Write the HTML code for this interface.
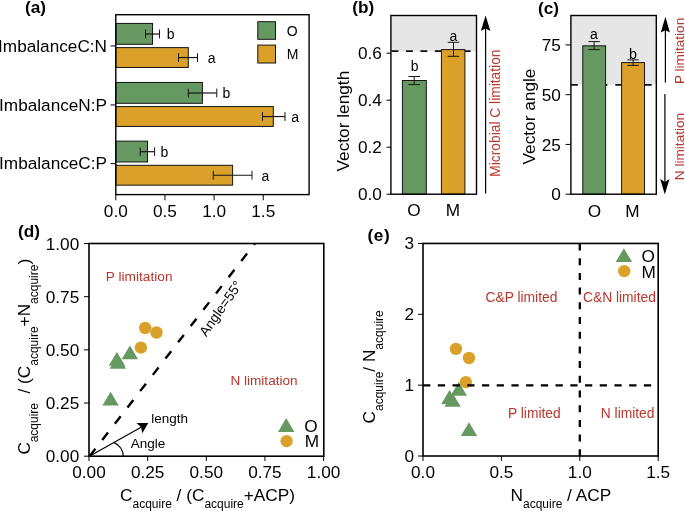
<!DOCTYPE html>
<html><head><meta charset="utf-8"><style>
html,body{margin:0;padding:0;background:#fff;overflow:hidden;}
svg{display:block;font-family:"Liberation Sans", sans-serif;will-change:transform;}
</style></head><body>
<svg width="685" height="511" viewBox="0 0 685 511">
<rect width="685" height="511" fill="#fff"/>
<text x="25.00" y="12.50" font-size="17.2" text-anchor="start" fill="#000" font-weight="bold">(a)</text>
<rect x="115.80" y="23.45" width="36.70" height="20.85" fill="#669862" stroke="#151515" stroke-width="1.0"/>
<rect x="115.80" y="47.60" width="72.50" height="19.85" fill="#DBA02A" stroke="#151515" stroke-width="1.0"/>
<line x1="145.50" y1="34.00" x2="159.50" y2="34.00" stroke="#151515" stroke-width="1.2"/>
<line x1="145.50" y1="29.60" x2="145.50" y2="38.40" stroke="#151515" stroke-width="1.0"/>
<line x1="159.50" y1="29.60" x2="159.50" y2="38.40" stroke="#151515" stroke-width="1.0"/>
<line x1="178.50" y1="57.55" x2="197.50" y2="57.55" stroke="#151515" stroke-width="1.2"/>
<line x1="178.50" y1="53.15" x2="178.50" y2="61.95" stroke="#151515" stroke-width="1.0"/>
<line x1="197.50" y1="53.15" x2="197.50" y2="61.95" stroke="#151515" stroke-width="1.0"/>
<text x="166.70" y="39.05" font-size="14" text-anchor="start" fill="#000" font-weight="normal">b</text>
<text x="207.70" y="63.15" font-size="14" text-anchor="start" fill="#000" font-weight="normal">a</text>
<rect x="115.80" y="82.45" width="86.60" height="20.85" fill="#669862" stroke="#151515" stroke-width="1.0"/>
<rect x="115.80" y="106.60" width="157.50" height="19.85" fill="#DBA02A" stroke="#151515" stroke-width="1.0"/>
<line x1="188.30" y1="93.00" x2="216.80" y2="93.00" stroke="#151515" stroke-width="1.2"/>
<line x1="188.30" y1="88.60" x2="188.30" y2="97.40" stroke="#151515" stroke-width="1.0"/>
<line x1="216.80" y1="88.60" x2="216.80" y2="97.40" stroke="#151515" stroke-width="1.0"/>
<line x1="262.50" y1="116.55" x2="285.00" y2="116.55" stroke="#151515" stroke-width="1.2"/>
<line x1="262.50" y1="112.15" x2="262.50" y2="120.95" stroke="#151515" stroke-width="1.0"/>
<line x1="285.00" y1="112.15" x2="285.00" y2="120.95" stroke="#151515" stroke-width="1.0"/>
<text x="222.40" y="98.05" font-size="14" text-anchor="start" fill="#000" font-weight="normal">b</text>
<text x="291.20" y="122.15" font-size="14" text-anchor="start" fill="#000" font-weight="normal">a</text>
<rect x="115.80" y="141.15" width="31.70" height="20.85" fill="#669862" stroke="#151515" stroke-width="1.0"/>
<rect x="115.80" y="165.30" width="116.80" height="19.85" fill="#DBA02A" stroke="#151515" stroke-width="1.0"/>
<line x1="140.20" y1="151.70" x2="154.60" y2="151.70" stroke="#151515" stroke-width="1.2"/>
<line x1="140.20" y1="147.30" x2="140.20" y2="156.10" stroke="#151515" stroke-width="1.0"/>
<line x1="154.60" y1="147.30" x2="154.60" y2="156.10" stroke="#151515" stroke-width="1.0"/>
<line x1="213.30" y1="175.25" x2="252.00" y2="175.25" stroke="#151515" stroke-width="1.2"/>
<line x1="213.30" y1="170.85" x2="213.30" y2="179.65" stroke="#151515" stroke-width="1.0"/>
<line x1="252.00" y1="170.85" x2="252.00" y2="179.65" stroke="#151515" stroke-width="1.0"/>
<text x="160.60" y="156.75" font-size="14" text-anchor="start" fill="#000" font-weight="normal">b</text>
<text x="261.40" y="180.85" font-size="14" text-anchor="start" fill="#000" font-weight="normal">a</text>
<rect x="257.80" y="21.70" width="17.70" height="17.60" fill="#669862" stroke="#151515" stroke-width="1.0"/>
<rect x="257.80" y="45.10" width="17.70" height="17.90" fill="#DBA02A" stroke="#151515" stroke-width="1.0"/>
<text x="286.80" y="35.80" font-size="14" text-anchor="start" fill="#000" font-weight="normal">O</text>
<text x="286.80" y="58.90" font-size="14" text-anchor="start" fill="#000" font-weight="normal">M</text>
<rect x="115.8" y="14.7" width="193.30" height="179.90" fill="none" stroke="#000" stroke-width="1.4"/>
<line x1="110.50" y1="45.95" x2="115.80" y2="45.95" stroke="#000" stroke-width="1.0"/>
<text x="107.00" y="51.75" font-size="17.2" text-anchor="end" fill="#000" font-weight="normal">ImbalanceC:N</text>
<line x1="110.50" y1="104.95" x2="115.80" y2="104.95" stroke="#000" stroke-width="1.0"/>
<text x="107.00" y="110.75" font-size="17.2" text-anchor="end" fill="#000" font-weight="normal">ImbalanceN:P</text>
<line x1="110.50" y1="163.65" x2="115.80" y2="163.65" stroke="#000" stroke-width="1.0"/>
<text x="107.00" y="169.45" font-size="17.2" text-anchor="end" fill="#000" font-weight="normal">ImbalanceC:P</text>
<line x1="115.80" y1="194.60" x2="115.80" y2="200.30" stroke="#000" stroke-width="1.0"/>
<text x="115.80" y="216.80" font-size="17.2" text-anchor="middle" fill="#000" font-weight="normal">0.0</text>
<line x1="164.95" y1="194.60" x2="164.95" y2="200.30" stroke="#000" stroke-width="1.0"/>
<text x="164.95" y="216.80" font-size="17.2" text-anchor="middle" fill="#000" font-weight="normal">0.5</text>
<line x1="214.10" y1="194.60" x2="214.10" y2="200.30" stroke="#000" stroke-width="1.0"/>
<text x="214.10" y="216.80" font-size="17.2" text-anchor="middle" fill="#000" font-weight="normal">1.0</text>
<line x1="263.25" y1="194.60" x2="263.25" y2="200.30" stroke="#000" stroke-width="1.0"/>
<text x="263.25" y="216.80" font-size="17.2" text-anchor="middle" fill="#000" font-weight="normal">1.5</text>
<text x="352.30" y="13.00" font-size="17.2" text-anchor="start" fill="#000" font-weight="bold">(b)</text>
<rect x="390.90" y="15.50" width="85.60" height="35.60" fill="#E6E6E6"/>
<line x1="391.50" y1="51.10" x2="476.50" y2="51.10" stroke="#111" stroke-width="1.8" stroke-dasharray="6.9 7.55"/>
<rect x="402.40" y="80.50" width="23.90" height="113.70" fill="#669862" stroke="#151515" stroke-width="1.0"/>
<rect x="441.40" y="49.60" width="23.50" height="144.60" fill="#DBA02A" stroke="#151515" stroke-width="1.0"/>
<line x1="414.20" y1="76.50" x2="414.20" y2="84.60" stroke="#151515" stroke-width="1.0"/>
<line x1="408.40" y1="76.50" x2="420.00" y2="76.50" stroke="#151515" stroke-width="1.0"/>
<line x1="408.40" y1="84.60" x2="420.00" y2="84.60" stroke="#151515" stroke-width="1.0"/>
<line x1="453.50" y1="42.30" x2="453.50" y2="56.30" stroke="#151515" stroke-width="1.0"/>
<line x1="447.80" y1="42.30" x2="459.20" y2="42.30" stroke="#151515" stroke-width="1.0"/>
<line x1="447.80" y1="56.30" x2="459.20" y2="56.30" stroke="#151515" stroke-width="1.0"/>
<text x="414.60" y="71.20" font-size="14" text-anchor="middle" fill="#000" font-weight="normal">b</text>
<text x="453.30" y="41.00" font-size="14" text-anchor="middle" fill="#000" font-weight="normal">a</text>
<rect x="390.9" y="15.5" width="85.60" height="178.70" fill="none" stroke="#000" stroke-width="1.4"/>
<line x1="386.50" y1="194.20" x2="390.90" y2="194.20" stroke="#000" stroke-width="1.0"/>
<text x="381.80" y="200.40" font-size="17.2" text-anchor="end" fill="#000" font-weight="normal">0.0</text>
<line x1="386.50" y1="147.20" x2="390.90" y2="147.20" stroke="#000" stroke-width="1.0"/>
<text x="381.80" y="153.40" font-size="17.2" text-anchor="end" fill="#000" font-weight="normal">0.2</text>
<line x1="386.50" y1="100.20" x2="390.90" y2="100.20" stroke="#000" stroke-width="1.0"/>
<text x="381.80" y="106.40" font-size="17.2" text-anchor="end" fill="#000" font-weight="normal">0.4</text>
<line x1="386.50" y1="53.20" x2="390.90" y2="53.20" stroke="#000" stroke-width="1.0"/>
<text x="381.80" y="59.40" font-size="17.2" text-anchor="end" fill="#000" font-weight="normal">0.6</text>
<text x="414.00" y="215.50" font-size="17.2" text-anchor="middle" fill="#000" font-weight="normal">O</text>
<text x="453.00" y="215.50" font-size="17.2" text-anchor="middle" fill="#000" font-weight="normal">M</text>
<text x="349.00" y="121.10" font-size="17.25" text-anchor="middle" fill="#000" font-weight="normal" transform="rotate(-90 349 121.1)">Vector length</text>
<line x1="485.60" y1="193.40" x2="485.60" y2="26.00" stroke="#000" stroke-width="1.2"/>
<polygon points="485.6,15.4 490.4,31.0 485.6,28.6 480.8,31.0" fill="#000"/>
<text x="500.30" y="113.10" font-size="13.8" text-anchor="middle" fill="#B8362C" font-weight="normal" transform="rotate(-90 500.3 113.1)">Microbial C limitation</text>
<text x="538.00" y="14.00" font-size="17.2" text-anchor="start" fill="#000" font-weight="bold">(c)</text>
<rect x="570.90" y="15.50" width="85.40" height="69.10" fill="#E6E6E6"/>
<line x1="571.00" y1="84.90" x2="656.30" y2="84.90" stroke="#111" stroke-width="1.8" stroke-dasharray="6.87 7.9"/>
<rect x="582.80" y="45.80" width="22.80" height="148.40" fill="#669862" stroke="#151515" stroke-width="1.0"/>
<rect x="621.60" y="62.60" width="22.90" height="131.60" fill="#DBA02A" stroke="#151515" stroke-width="1.0"/>
<line x1="594.10" y1="41.60" x2="594.10" y2="49.60" stroke="#151515" stroke-width="1.0"/>
<line x1="588.40" y1="41.60" x2="599.80" y2="41.60" stroke="#151515" stroke-width="1.0"/>
<line x1="588.40" y1="49.60" x2="599.80" y2="49.60" stroke="#151515" stroke-width="1.0"/>
<line x1="633.10" y1="59.90" x2="633.10" y2="65.40" stroke="#151515" stroke-width="1.0"/>
<line x1="627.40" y1="59.90" x2="638.80" y2="59.90" stroke="#151515" stroke-width="1.0"/>
<line x1="627.40" y1="65.40" x2="638.80" y2="65.40" stroke="#151515" stroke-width="1.0"/>
<text x="593.80" y="38.50" font-size="14" text-anchor="middle" fill="#000" font-weight="normal">a</text>
<text x="633.10" y="59.20" font-size="14.3" text-anchor="middle" fill="#000" font-weight="normal">b</text>
<rect x="570.9" y="15.5" width="85.40" height="178.70" fill="none" stroke="#000" stroke-width="1.4"/>
<line x1="565.60" y1="194.20" x2="570.90" y2="194.20" stroke="#000" stroke-width="1.0"/>
<text x="560.80" y="200.40" font-size="17.2" text-anchor="end" fill="#000" font-weight="normal">0</text>
<line x1="565.60" y1="144.45" x2="570.90" y2="144.45" stroke="#000" stroke-width="1.0"/>
<text x="560.80" y="150.65" font-size="17.2" text-anchor="end" fill="#000" font-weight="normal">25</text>
<line x1="565.60" y1="94.70" x2="570.90" y2="94.70" stroke="#000" stroke-width="1.0"/>
<text x="560.80" y="100.90" font-size="17.2" text-anchor="end" fill="#000" font-weight="normal">50</text>
<line x1="565.60" y1="44.95" x2="570.90" y2="44.95" stroke="#000" stroke-width="1.0"/>
<text x="560.80" y="51.15" font-size="17.2" text-anchor="end" fill="#000" font-weight="normal">75</text>
<text x="594.50" y="216.50" font-size="17.2" text-anchor="middle" fill="#000" font-weight="normal">O</text>
<text x="632.50" y="216.50" font-size="17.2" text-anchor="middle" fill="#000" font-weight="normal">M</text>
<text x="535.00" y="116.50" font-size="17.25" text-anchor="middle" fill="#000" font-weight="normal" transform="rotate(-90 535 116.5)">Vector angle</text>
<line x1="665.40" y1="82.40" x2="665.40" y2="28.00" stroke="#000" stroke-width="1.2"/>
<polygon points="665.4,16.8 669.9,32.6 665.4,30.3 660.8,32.6" fill="#000"/>
<line x1="664.90" y1="94.00" x2="664.90" y2="183.00" stroke="#000" stroke-width="1.2"/>
<polygon points="664.8,194.4 669.5,178.9 664.9,182.0 660.2,178.9" fill="#000"/>
<text x="684.00" y="50.90" font-size="13.6" text-anchor="middle" fill="#B8362C" font-weight="normal" transform="rotate(-90 684 50.9)">P limitation</text>
<text x="684.00" y="146.50" font-size="13.6" text-anchor="middle" fill="#B8362C" font-weight="normal" transform="rotate(-90 684 146.5)">N limitation</text>
<text x="18.00" y="237.10" font-size="17.2" text-anchor="start" fill="#000" font-weight="bold">(d)</text>
<rect x="89" y="243.5" width="234.80" height="212.70" fill="none" stroke="#000" stroke-width="1.6"/>
<line x1="89.60" y1="456.20" x2="254.90" y2="243.50" stroke="#000" stroke-width="2.4" stroke-dasharray="9.4 11.2"/>
<circle cx="145.20" cy="328.00" r="6.2" fill="#DBA02A"/>
<circle cx="156.50" cy="332.50" r="6.2" fill="#DBA02A"/>
<circle cx="140.90" cy="347.60" r="6.2" fill="#DBA02A"/>
<polygon points="129.90,345.40 138.10,359.20 121.70,359.20" fill="#669862"/>
<polygon points="116.90,352.00 125.10,365.80 108.70,365.80" fill="#669862"/>
<polygon points="117.90,355.00 126.10,368.80 109.70,368.80" fill="#669862"/>
<polygon points="110.60,391.80 118.80,405.60 102.40,405.60" fill="#669862"/>
<line x1="89.40" y1="456.20" x2="142.00" y2="426.70" stroke="#000" stroke-width="1.2"/>
<polygon points="148.3,423.1 136.5,422.95 141.1,427.2 142.3,433.25" fill="#000"/>
<path d="M 123.3 456.2 A 14.7 14.7 0 0 0 114.0 442.6" fill="none" stroke="#000" stroke-width="1.2"/>
<text x="151.30" y="422.70" font-size="13.5" text-anchor="start" fill="#000" font-weight="normal">length</text>
<text x="130.80" y="447.60" font-size="13.5" text-anchor="start" fill="#000" font-weight="normal">Angle</text>
<text x="105.80" y="281.10" font-size="13.7" text-anchor="start" fill="#B8362C" font-weight="normal">P limitation</text>
<text x="230.40" y="384.70" font-size="13.6" text-anchor="start" fill="#B8362C" font-weight="normal">N limitation</text>
<text x="224.50" y="311.10" font-size="13.7" text-anchor="middle" fill="#000" font-weight="normal" transform="rotate(-55 224.5 311.1)">Angle=55°</text>
<polygon points="286.20,418.10 294.40,431.90 278.00,431.90" fill="#669862"/>
<circle cx="286.60" cy="441.10" r="6.2" fill="#DBA02A"/>
<text x="304.30" y="431.90" font-size="17.2" text-anchor="start" fill="#000" font-weight="normal">O</text>
<text x="304.70" y="446.70" font-size="17.2" text-anchor="start" fill="#000" font-weight="normal">M</text>
<line x1="84.00" y1="456.20" x2="89.00" y2="456.20" stroke="#000" stroke-width="1.0"/>
<text x="79.20" y="462.20" font-size="17.2" text-anchor="end" fill="#000" font-weight="normal">0.00</text>
<line x1="89.00" y1="456.20" x2="89.00" y2="461.00" stroke="#000" stroke-width="1.0"/>
<text x="89.00" y="478.20" font-size="17.2" text-anchor="middle" fill="#000" font-weight="normal">0.00</text>
<line x1="84.00" y1="403.02" x2="89.00" y2="403.02" stroke="#000" stroke-width="1.0"/>
<text x="79.20" y="409.02" font-size="17.2" text-anchor="end" fill="#000" font-weight="normal">0.25</text>
<line x1="147.65" y1="456.20" x2="147.65" y2="461.00" stroke="#000" stroke-width="1.0"/>
<text x="147.65" y="478.20" font-size="17.2" text-anchor="middle" fill="#000" font-weight="normal">0.25</text>
<line x1="84.00" y1="349.85" x2="89.00" y2="349.85" stroke="#000" stroke-width="1.0"/>
<text x="79.20" y="355.85" font-size="17.2" text-anchor="end" fill="#000" font-weight="normal">0.50</text>
<line x1="206.30" y1="456.20" x2="206.30" y2="461.00" stroke="#000" stroke-width="1.0"/>
<text x="206.30" y="478.20" font-size="17.2" text-anchor="middle" fill="#000" font-weight="normal">0.50</text>
<line x1="84.00" y1="296.68" x2="89.00" y2="296.68" stroke="#000" stroke-width="1.0"/>
<text x="79.20" y="302.68" font-size="17.2" text-anchor="end" fill="#000" font-weight="normal">0.75</text>
<line x1="264.95" y1="456.20" x2="264.95" y2="461.00" stroke="#000" stroke-width="1.0"/>
<text x="264.95" y="478.20" font-size="17.2" text-anchor="middle" fill="#000" font-weight="normal">0.75</text>
<line x1="84.00" y1="243.50" x2="89.00" y2="243.50" stroke="#000" stroke-width="1.0"/>
<text x="79.20" y="249.50" font-size="17.2" text-anchor="end" fill="#000" font-weight="normal">1.00</text>
<line x1="323.60" y1="456.20" x2="323.60" y2="461.00" stroke="#000" stroke-width="1.0"/>
<text x="323.60" y="478.20" font-size="17.2" text-anchor="middle" fill="#000" font-weight="normal">1.00</text>
<text x="120" y="500.9" font-size="17.25">C<tspan font-size="12" dy="6.6">acquire</tspan><tspan dy="-6.6"> / (C</tspan><tspan font-size="12" dy="6.6">acquire</tspan><tspan dy="-6.6">+ACP)</tspan></text>
<text x="30.5" y="454.4" font-size="17.25" transform="rotate(-90 30.5 454.4)">C<tspan font-size="12" dy="7.9" dx="-0.4">acquire</tspan><tspan dy="-7.9" dx="4.6"> / (C</tspan><tspan font-size="12" dy="7.1">acquire</tspan><tspan dy="-7.1">+N</tspan><tspan font-size="12" dy="7.1">acquire</tspan><tspan dy="-7.1">)</tspan></text>
<text x="367.60" y="241.00" font-size="17.2" text-anchor="start" fill="#000" font-weight="bold" letter-spacing="0.55">(e)</text>
<rect x="423" y="243.45" width="235.20" height="212.55" fill="none" stroke="#000" stroke-width="1.6"/>
<circle cx="455.90" cy="348.90" r="6.2" fill="#DBA02A"/>
<circle cx="469.00" cy="358.00" r="6.2" fill="#DBA02A"/>
<circle cx="465.80" cy="382.20" r="6.2" fill="#DBA02A"/>
<polygon points="458.80,382.00 467.00,395.80 450.60,395.80" fill="#669862"/>
<polygon points="449.50,390.10 457.70,403.90 441.30,403.90" fill="#669862"/>
<polygon points="452.60,393.00 460.80,406.80 444.40,406.80" fill="#669862"/>
<polygon points="469.00,422.30 477.20,436.10 460.80,436.10" fill="#669862"/>
<line x1="579.80" y1="243.50" x2="579.80" y2="456.00" stroke="#000" stroke-width="2.3" stroke-dasharray="7.0 7.7"/>
<line x1="423.10" y1="385.40" x2="658.20" y2="385.40" stroke="#000" stroke-width="2.3" stroke-dasharray="7.25 7.47"/>
<text x="485.50" y="302.40" font-size="13.8" text-anchor="start" fill="#B8362C" font-weight="normal">C&amp;P limited</text>
<text x="583.00" y="301.90" font-size="13.8" text-anchor="start" fill="#B8362C" font-weight="normal">C&amp;N limited</text>
<text x="508.00" y="417.60" font-size="13.8" text-anchor="start" fill="#B8362C" font-weight="normal">P limited</text>
<text x="600.80" y="417.60" font-size="13.8" text-anchor="start" fill="#B8362C" font-weight="normal">N limited</text>
<polygon points="623.90,248.20 632.10,262.00 615.70,262.00" fill="#669862"/>
<circle cx="624.20" cy="271.10" r="6.2" fill="#DBA02A"/>
<text x="641.40" y="261.80" font-size="17.2" text-anchor="start" fill="#000" font-weight="normal">O</text>
<text x="641.60" y="277.60" font-size="17.2" text-anchor="start" fill="#000" font-weight="normal">M</text>
<line x1="418.00" y1="456.00" x2="423.00" y2="456.00" stroke="#000" stroke-width="1.0"/>
<text x="414.00" y="462.00" font-size="17.2" text-anchor="end" fill="#000" font-weight="normal">0</text>
<line x1="418.00" y1="385.15" x2="423.00" y2="385.15" stroke="#000" stroke-width="1.0"/>
<text x="414.00" y="391.15" font-size="17.2" text-anchor="end" fill="#000" font-weight="normal">1</text>
<line x1="418.00" y1="314.30" x2="423.00" y2="314.30" stroke="#000" stroke-width="1.0"/>
<text x="414.00" y="320.30" font-size="17.2" text-anchor="end" fill="#000" font-weight="normal">2</text>
<line x1="418.00" y1="243.45" x2="423.00" y2="243.45" stroke="#000" stroke-width="1.0"/>
<text x="414.00" y="249.45" font-size="17.2" text-anchor="end" fill="#000" font-weight="normal">3</text>
<line x1="423.00" y1="456.00" x2="423.00" y2="461.00" stroke="#000" stroke-width="1.0"/>
<text x="423.00" y="478.20" font-size="17.2" text-anchor="middle" fill="#000" font-weight="normal">0.0</text>
<line x1="501.40" y1="456.00" x2="501.40" y2="461.00" stroke="#000" stroke-width="1.0"/>
<text x="501.40" y="478.20" font-size="17.2" text-anchor="middle" fill="#000" font-weight="normal">0.5</text>
<line x1="579.80" y1="456.00" x2="579.80" y2="461.00" stroke="#000" stroke-width="1.0"/>
<text x="579.80" y="478.20" font-size="17.2" text-anchor="middle" fill="#000" font-weight="normal">1.0</text>
<line x1="658.20" y1="456.00" x2="658.20" y2="461.00" stroke="#000" stroke-width="1.0"/>
<text x="658.20" y="478.20" font-size="17.2" text-anchor="middle" fill="#000" font-weight="normal">1.5</text>
<text x="510.5" y="500.9" font-size="17.25">N<tspan font-size="12" dy="6.6">acquire</tspan><tspan dy="-6.6"> / ACP</tspan></text>
<text x="375" y="423.5" font-size="17.25" transform="rotate(-90 375 423.5)">C<tspan font-size="12" dy="7.5">acquire</tspan><tspan dy="-7.5">/ N</tspan><tspan font-size="12" dy="7.5">acquire</tspan></text>
</svg>
</body></html>
